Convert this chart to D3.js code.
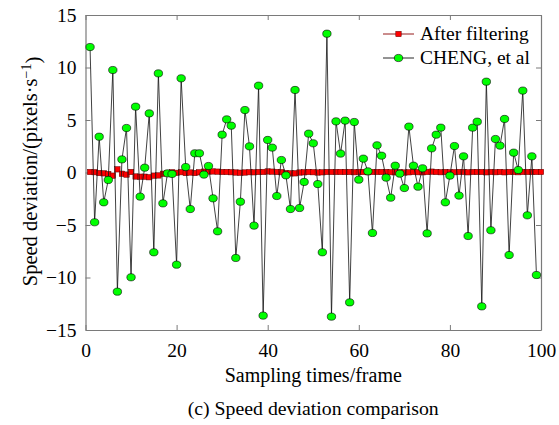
<!DOCTYPE html>
<html>
<head>
<meta charset="utf-8">
<script src="https://cdn.jsdelivr.net/npm/d3@7/dist/d3.min.js"></script>
<style>
  body { margin: 0; background: #fff; }
</style>
</head>
<body>
<div id="chart"></div>
<script>
// values, frame 1..100
var filtered = [
    0.05, 0.03, -0.05, -0.08, -0.15, -0.3, 0.3, -0.12, -0.2, 0.05,
    -0.38, -0.4, -0.4, -0.45, -0.3, -0.28, -0.12, -0.05, 0.02, -0.03,
    0.03, -0.05, 0.0, -0.05, 0.02, 0.08, 0.1, 0.1, 0.08, 0.05,
    0.05, 0.03, 0.0, -0.02, 0.0, 0.03, 0.02, 0.05, 0.05, 0.1,
    0.08, 0.05, 0.03, -0.05, -0.08, -0.08, 0.0, 0.02, 0.05, 0.03,
    0.0, 0.02, 0.05, 0.05, 0.05, 0.05, 0.05, 0.05, 0.03, 0.05,
    0.05, 0.03, 0.05, 0.05, 0.05, 0.05, 0.03, 0.02, 0.02, 0.0,
    0.02, 0.05, 0.03, 0.02, 0.05, 0.08, 0.05, 0.03, 0.05, 0.02,
    0.03, 0.05, 0.05, 0.02, 0.05, 0.05, 0.05, 0.02, 0.05, 0.03,
    0.05, 0.02, 0.05, 0.05, 0.03, 0.05, 0.05, 0.05, 0.05, 0.05
];

// frame 1..99
var cheng = [
    11.95, -4.74, 3.41, -2.84, -0.71, 9.76, -11.35, 1.25, 4.24, -9.98,
    6.27, -2.3, 0.46, 5.63, -7.6, 9.44, -2.94, -0.08, -0.14, -8.78,
    8.97, 0.52, -3.48, 1.83, 1.83, -0.2, 0.62, -2.46, -5.6, 3.6,
    5.06, 4.46, -8.14, -2.78, 5.95, 2.49, -5.06, 8.27, -13.63, 3.1,
    2.37, -2.24, 1.19, -0.27, -3.48, 7.86, -3.38, -0.9, 3.7, 2.78,
    -1.1, -7.6, 13.22, -13.73, 4.87, 1.8, 4.94, -12.37, 4.81, -0.68,
    1.32, 0.11, -5.76, 2.59, 1.6, -0.49, -2.4, 0.65, -0.11, -1.48,
    4.37, 0.65, -1.35, 0.4, -5.8, 2.3, 3.6, 4.27, -2.84, -0.3,
    2.52, -2.2, 1.54, -6.05, 4.27, 4.84, -12.75, 8.65, -5.5, 3.19,
    2.56, 5.1, -7.86, 1.89, 0.24, 7.8, -4.08, 1.54, -9.76
];

var xTicks = [0, 20, 40, 60, 80, 100];
var yTicks = [-15, -10, -5, 0, 5, 10, 15];
var seriesNames = ["After filtering", "CHENG, et al"];

var width = 559,
    height = 425,
    margin = {top: 15, right: 18, bottom: 95, left: 85.5},
    frameColor = "#7a7a7a",
    serif = "Liberation Serif";

var svg = d3.select("#chart").append("svg")
    .attr("width", width)
    .attr("height", height);

var x = d3.scaleLinear().domain([0, 100]).range([margin.left, width - margin.right]);
var y = d3.scaleLinear().domain([-15, 15]).range([height - margin.bottom, margin.top]);

// axes, ticks pointing inward
var xAxis = svg.append("g")
    .attr("transform", "translate(0," + y(-15) + ")")
    .call(d3.axisBottom(x).tickValues(xTicks).tickSizeInner(-5).tickSizeOuter(0).tickPadding(12)
        .tickFormat(d3.format("d")));
var xAxisTop = svg.append("g")
    .attr("transform", "translate(0," + y(15) + ")")
    .call(d3.axisTop(x).tickValues(xTicks).tickSizeInner(-5).tickSizeOuter(0).tickFormat(""));
var yAxis = svg.append("g")
    .attr("transform", "translate(" + x(0) + ",0)")
    .call(d3.axisLeft(y).tickValues(yTicks).tickSizeInner(-5).tickSizeOuter(0).tickPadding(9)
        .tickFormat(function(d) { return d < 0 ? "\u2212" + Math.abs(d) : d; }));
var yAxisRight = svg.append("g")
    .attr("transform", "translate(" + x(100) + ",0)")
    .call(d3.axisRight(y).tickValues(yTicks).tickSizeInner(-5).tickSizeOuter(0).tickFormat(""));

[xAxis, xAxisTop, yAxis, yAxisRight].forEach(function(a) {
    a.attr("font-family", null).attr("font-size", null);
    a.select(".domain").attr("stroke", frameColor).attr("stroke-width", 1.2);
    a.selectAll(".tick line").attr("stroke", frameColor);
    a.selectAll(".tick text")
        .style("font-family", serif)
        .style("font-size", "19.5px")
        .attr("fill", "#000");
});
xAxis.selectAll(".tick text").attr("dy", "0.75em");

var seriesLine = d3.line()
    .x(function(d, i) { return x(i + 1); })
    .y(function(d) { return y(d); });

// after filtering series
svg.append("path")
    .datum(filtered)
    .attr("fill", "none")
    .attr("stroke", "#8b0000")
    .attr("stroke-width", 0.8)
    .attr("d", seriesLine);

svg.append("g").selectAll("rect")
    .data(filtered)
    .enter().append("rect")
    .attr("x", function(d, i) { return x(i + 1) - 2.7; })
    .attr("y", function(d) { return y(d) - 2.7; })
    .attr("width", 5.4)
    .attr("height", 5.4)
    .attr("fill", "#ff0000")
    .attr("stroke", "#5a0000")
    .attr("stroke-width", 0.5);

// CHENG series
svg.append("path")
    .datum(cheng)
    .attr("fill", "none")
    .attr("stroke", "#111")
    .attr("stroke-width", 0.8)
    .attr("d", seriesLine);

svg.append("g").selectAll("ellipse")
    .data(cheng)
    .enter().append("ellipse")
    .attr("cx", function(d, i) { return x(i + 1); })
    .attr("cy", function(d) { return y(d); })
    .attr("rx", 4.2)
    .attr("ry", 3.6)
    .attr("fill", "#00ff00")
    .attr("stroke", "#000")
    .attr("stroke-width", 0.6);

// legend
var rows = svg.append("g").selectAll("g")
    .data(seriesNames)
    .enter().append("g")
    .attr("transform", function(d, i) { return "translate(383," + (34 + i * 24) + ")"; });
rows.append("line")
    .attr("x1", 0).attr("x2", 31).attr("y1", 0).attr("y2", 0)
    .attr("stroke", function(d, i) { return i === 0 ? "#8b0000" : "#111"; })
    .attr("stroke-width", 0.9);
rows.filter(function(d, i) { return i === 0; }).append("rect")
    .attr("x", 12.8).attr("y", -2.7).attr("width", 5.4).attr("height", 5.4)
    .attr("fill", "#ff0000").attr("stroke", "#5a0000").attr("stroke-width", 0.5);
rows.filter(function(d, i) { return i === 1; }).append("ellipse")
    .attr("cx", 15.5).attr("cy", 0).attr("rx", 4.2).attr("ry", 3.6)
    .attr("fill", "#00ff00").attr("stroke", "#000").attr("stroke-width", 0.6);
rows.append("text")
    .attr("x", 37)
    .attr("y", 0)
    .attr("dy", "0.33em")
    .style("font-family", serif)
    .style("font-size", "19.5px")
    .text(function(d) { return d; });

// axis titles and caption
svg.append("text")
    .attr("x", (x(0) + x(100)) / 2)
    .attr("y", 382)
    .attr("text-anchor", "middle")
    .style("font-family", serif)
    .style("font-size", "20px")
    .text("Sampling times/frame");

var yLabel = svg.append("text")
    .attr("transform", "translate(37," + (y(0) - 1) + ") rotate(-90)")
    .attr("text-anchor", "middle")
    .style("font-family", serif)
    .style("font-size", "20.5px");
yLabel.append("tspan").text("Speed deviation/(pixels\u00b7s");
yLabel.append("tspan").attr("dy", "-0.45em").style("font-size", "14px").text("\u22121");
yLabel.append("tspan").attr("dy", "0.45em").text(")");

svg.append("text")
    .attr("x", (x(0) + x(100)) / 2)
    .attr("y", 415)
    .attr("text-anchor", "middle")
    .style("font-family", serif)
    .style("font-size", "19.8px")
    .text("(c) Speed deviation comparison");
</script>
</body>
</html>
